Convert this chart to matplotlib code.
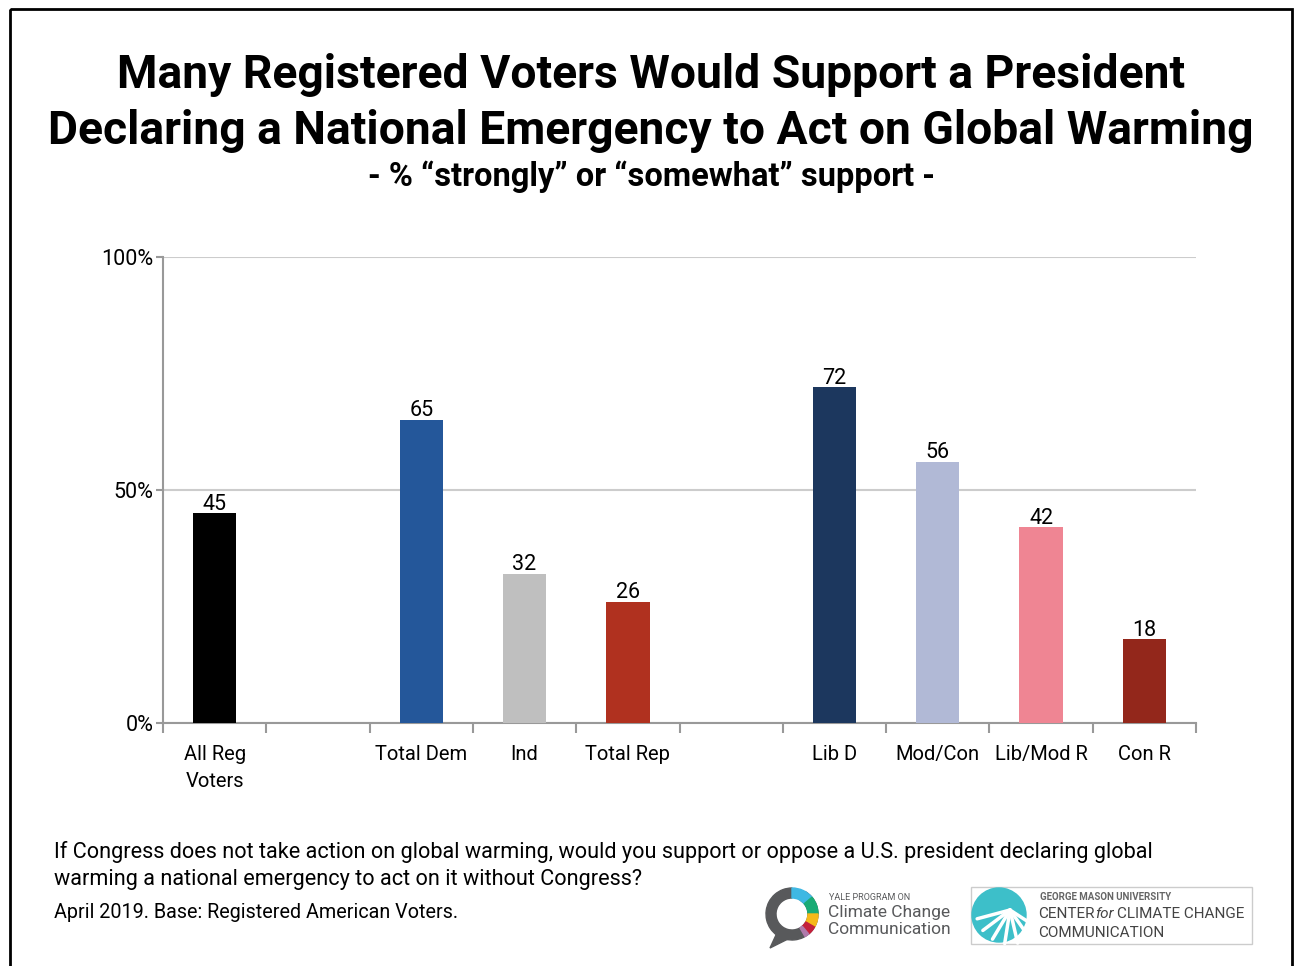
import math
import matplotlib
matplotlib.use("Agg")
import matplotlib.pyplot as plt
from matplotlib.patches import Rectangle, Wedge, Circle, Polygon

plt.rcParams['font.family'] = ['Roboto', 'DejaVu Sans']

# data
categories = ["All Reg\nVoters", "", "Total Dem", "Ind", "Total Rep", "",
              "Lib D", "Mod/Con", "Lib/Mod R", "Con R"]
values = [45, None, 65, 32, 26, None, 72, 56, 42, 18]
colors = ["#000000", None, "#24579a", "#bfbfbf", "#b0311f", None,
          "#1c375e", "#b1b9d6", "#ef8593", "#93271b"]
yticks = [0, 50, 100]
yticklabels = ["0%", "50%", "100%"]

W, H = 1294, 966
fig = plt.figure(figsize=(W / 100, H / 100), dpi=100)

# overlay in pixel coords for frame, titles, notes and logos
bg = fig.add_axes([0, 0, 1, 1])
bg.set_xlim(0, W)
bg.set_ylim(H, 0)
bg.axis('off')
bg.add_patch(Rectangle((10, 9), 1282, 980, fill=False, edgecolor='black', linewidth=2))

bg.text(651, 75, "Many Registered Voters Would Support a President",
        ha='center', va='center', fontsize=33.3, fontweight='bold')
bg.text(651, 131, "Declaring a National Emergency to Act on Global Warming",
        ha='center', va='center', fontsize=33.3, fontweight='bold')
bg.text(651, 177, "- % \u201cstrongly\u201d or \u201csomewhat\u201d support -",
        ha='center', va='center', fontsize=23.5, fontweight='bold')

bg.text(54, 852, "If Congress does not take action on global warming, would you support or oppose a U.S. president declaring global",
        ha='left', va='center', fontsize=15.6)
bg.text(54, 879, "warming a national emergency to act on it without Congress?",
        ha='left', va='center', fontsize=15.6)
bg.text(54, 913, "April 2019. Base: Registered American Voters.",
        ha='left', va='center', fontsize=14.2)

# Yale logo
cx, cy, r = 792, 914, 26
bg.add_patch(Polygon([[776, 935], [770, 948], [790, 938]], closed=True, color='#58595b'))
segs = [(90, 420, '#58595b'), (40, 90, '#3fb8e3'), (0, 40, '#1aab75'),
        (-30, 0, '#f6b91a'), (-50, -30, '#c4203b'), (-60, -50, '#b07aab')]
for a1, a2, c in segs:
    bg.add_patch(Wedge((cx, cy), r, -a2, -a1, width=10, color=c))
bg.text(829, 897, "YALE PROGRAM ON", fontsize=6.5, color='#58595b', va='center')
bg.text(828, 912, "Climate Change", fontsize=12.5, color='#58595b', va='center')
bg.text(828, 930, "Communication", fontsize=12.5, color='#58595b', va='center')

# GMU logo
bg.add_patch(Rectangle((971, 887), 281, 57, fill=False, edgecolor='#cccccc', linewidth=1))
bg.add_patch(Circle((999, 915), 27, color='#3dbfc9'))
for ang in range(195, 335, 22):
    x2 = 1010 + 34 * math.cos(math.radians(ang))
    y2 = 910 - 34 * math.sin(math.radians(ang))
    bg.plot([1010, x2], [910, y2], color='white', linewidth=2.5, solid_capstyle='round')
bg.text(1040, 897, "GEORGE MASON UNIVERSITY", fontsize=7, fontweight='bold', color='#666666', va='center')
bg.text(1038, 914, "CENTER", fontsize=11, color='#444444', va='center')
bg.text(1095, 914, "for", fontsize=11, style='italic', color='#444444', va='center')
bg.text(1117, 914, "CLIMATE CHANGE", fontsize=11, color='#444444', va='center')
bg.text(1038, 933, "COMMUNICATION", fontsize=11, color='#444444', va='center')

# main chart
ax = fig.add_axes([163 / W, (H - 723) / H, 1033 / W, (723 - 257) / H])
xs = [i for i, v in enumerate(values) if v is not None]
vs = [values[i] for i in xs]
cs = [colors[i] for i in xs]
bars = ax.bar(xs, vs, width=0.42, color=cs, zorder=3)
for b, v in zip(bars, vs):
    ax.annotate(str(v), (b.get_x() + b.get_width() / 2, v), xytext=(0, -1),
                textcoords='offset points', ha='center', va='bottom', fontsize=15.5)

ax.set_xlim(-0.5, len(categories) - 0.5)
ax.set_ylim(0, 100)
ax.set_yticks(yticks)
ax.set_yticklabels(yticklabels, fontsize=15.5)
ax.set_xticks(range(len(categories)))
ax.set_xticklabels(categories, fontsize=14.5, linespacing=1.5)
ax.set_xticks([i - 0.5 for i in range(len(categories) + 1)], minor=True)
ax.tick_params(axis='x', which='major', length=0, pad=16)
ax.tick_params(axis='x', which='minor', length=7, color='#999999', width=1.5)
ax.tick_params(axis='y', length=5, color='#999999', width=1.5, pad=2)
ax.yaxis.grid(True, color='#cccccc', linewidth=1.5, zorder=0)
for s in ['top', 'right']:
    ax.spines[s].set_visible(False)
for s in ['left', 'bottom']:
    ax.spines[s].set_color('#999999')
    ax.spines[s].set_linewidth(1.5)

fig.savefig("out.png", dpi=100)
